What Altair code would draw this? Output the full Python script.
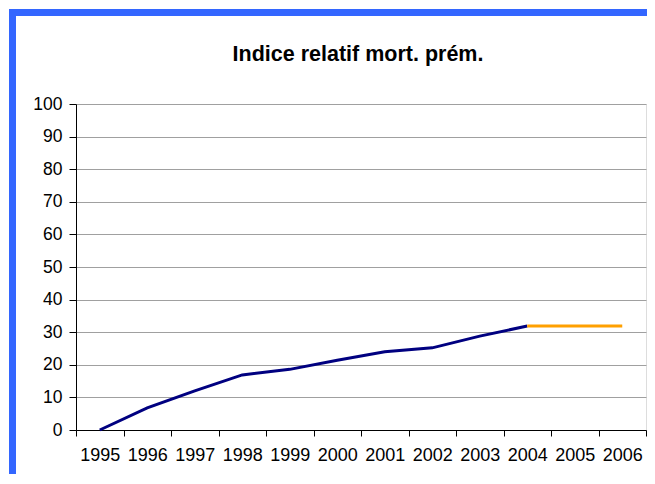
import altair as alt
import pandas as pd

title_text = "Indice relatif mort. prém."
years = ["1995", "1996", "1997", "1998", "1999", "2000",
         "2001", "2002", "2003", "2004", "2005", "2006"]
main_years = ["1995", "1996", "1997", "1998", "1999", "2000",
              "2001", "2002", "2003", "2004"]
main_values = [0.0, 6.8, 12.0, 16.9, 18.6, 21.4, 24.0, 25.2, 28.8, 31.9]
proj_years = ["2004", "2005", "2006"]
proj_values = [31.9, 31.9, 31.9]
series_names = ["Indice", "Projection"]
series_colors = ["#000080", "#FFA000"]
y_ticks = [0, 10, 20, 30, 40, 50, 60, 70, 80, 90, 100]

df = pd.DataFrame({
    "year": main_years + proj_years,
    "value": main_values + proj_values,
    "series": [series_names[0]] * len(main_years) + [series_names[1]] * len(proj_years),
})

FONT = "Liberation Sans"
BLUE = "#3366FF"

x_enc = alt.X(
    "year:O",
    bandPosition=0.5,
    sort=years,
    scale=alt.Scale(type="band", domain=years, paddingInner=0, paddingOuter=0),
    axis=alt.Axis(
        title=None, labelAngle=0, tickBand="extent", grid=False,
        domainColor="black", tickColor="black", tickSize=6,
        labelPadding=10, labelFontSize=18, labelColor="black", labelFont=FONT,
    ),
)
y_enc = alt.Y(
    "value:Q",
    scale=alt.Scale(domain=[0, 100], nice=False),
    axis=alt.Axis(
        title=None, values=y_ticks, grid=True, gridColor="#a0a0a0",
        domainColor="black", tickColor="black", tickSize=7,
        labelPadding=7, labelFontSize=17.5, labelColor="black", labelFont=FONT,
    ),
)

line = alt.Chart(df).mark_line(strokeWidth=3).encode(
    x=x_enc,
    y=y_enc,
    color=alt.Color("series:N", scale=alt.Scale(domain=series_names, range=series_colors), legend=None),
)

frame_df = pd.DataFrame({"k": [0]})
top_rule = alt.Chart(frame_df).mark_rule(color=BLUE, strokeWidth=7).encode(
    x=alt.value(-67), x2=alt.value(700), y=alt.value(-91.5)
)
left_rule = alt.Chart(frame_df).mark_rule(color=BLUE, strokeWidth=7).encode(
    x=alt.value(-63.5), y=alt.value(-91.5), y2=alt.value(500)
)

chart = alt.layer(top_rule, left_rule, line).properties(
    width=570,
    height=326,
    title=alt.Title(
        title_text, fontSize=21.5, fontWeight="bold", font=FONT, color="black",
        anchor="middle", frame="group", baseline="alphabetic", offset=0,
        dy=73, dx=-3,
    ),
    padding={"left": 68, "top": 96, "right": 1, "bottom": 44},
    autosize=alt.AutoSizeParams(type="none"),
).configure_view(stroke="#a0a0a0", strokeWidth=1).configure(font=FONT)

chart.save("out.html", embed_options={"renderer": "svg", "actions": False})
